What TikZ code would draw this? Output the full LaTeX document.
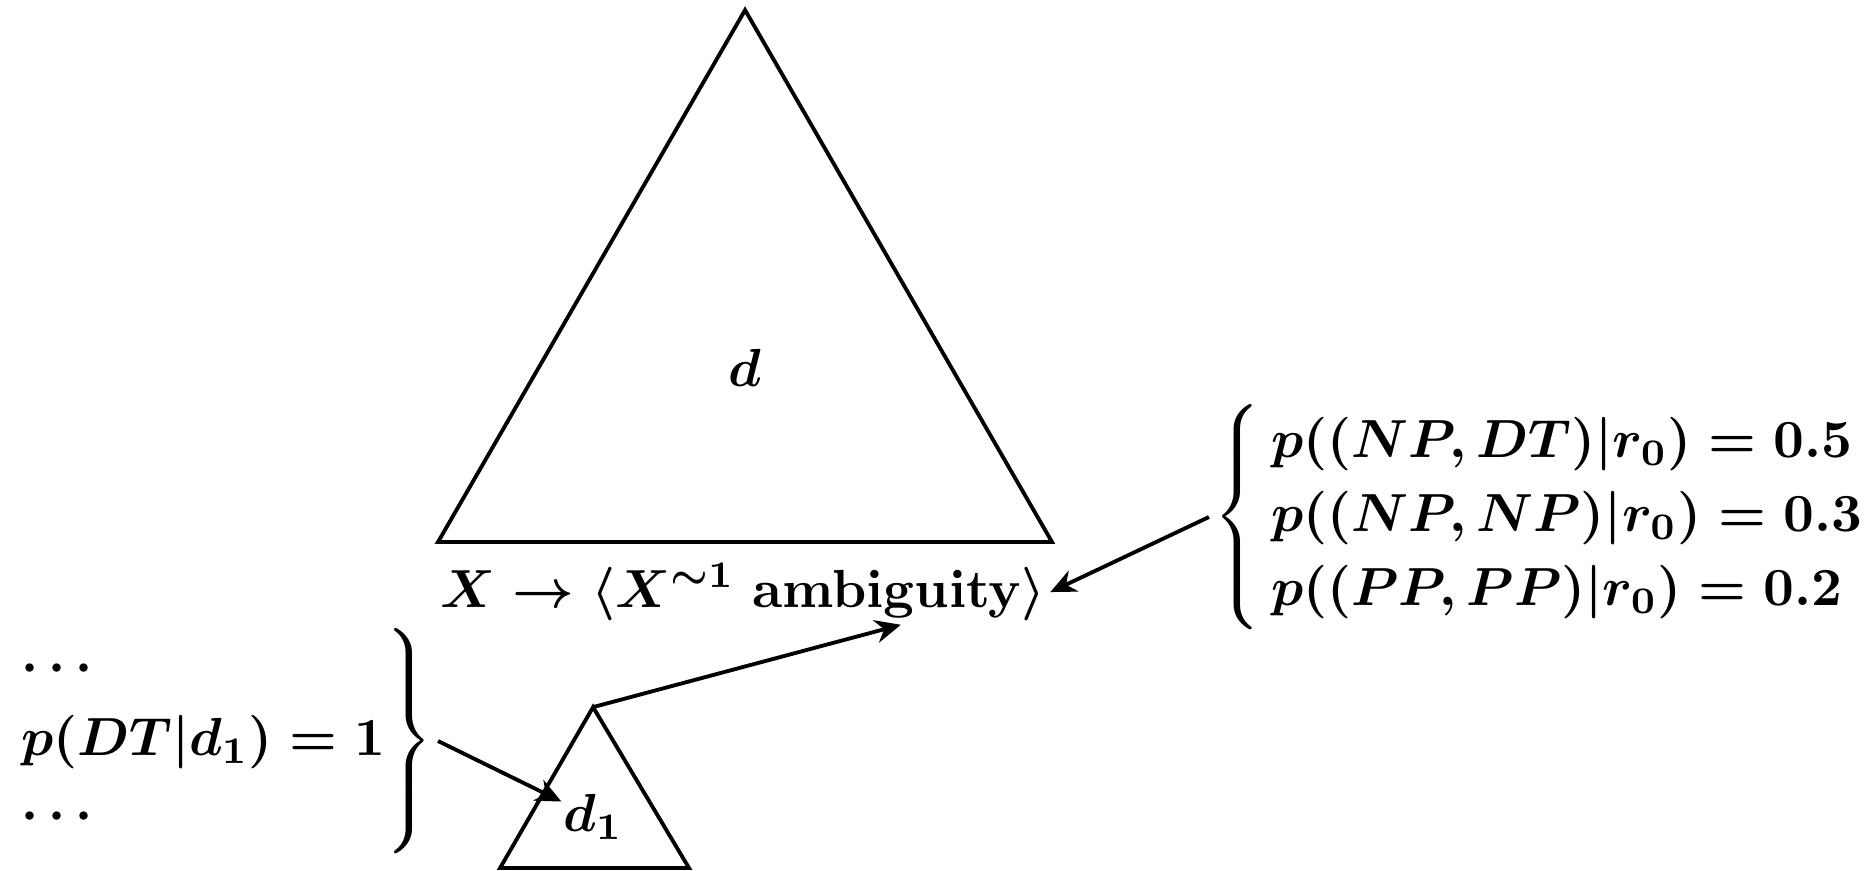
\documentclass[tikz,border=0pt]{standalone}
\usepackage{fix-cm}
\usepackage{amsmath,amssymb}
\usepackage{tikz}
\usetikzlibrary{arrows.meta,calc}

\begin{document}
\begin{tikzpicture}[>={Stealth[length=5pt,width=4.5pt]},line width=0.75pt,
    every node/.style={font=\fontsize{10.45}{12}\selectfont\boldmath},
    brace/.style={inner xsep=0.5pt}]
  \useasboundingbox (0,0) rectangle (12.842,5.959);
  % parent derivation
  \coordinate (top) at (5.103,5.890);
  \coordinate (bigL) at (3.0,2.247);
  \coordinate (bigR) at (7.205,2.247);
  \draw (top) -- (bigL) -- (bigR) -- cycle;
  \node (d) at (5.103,3.44) {$d$};
  \node[inner xsep=0.5pt] (rule) at (5.09,1.904) {$X \rightarrow \langle X^{\sim 1}\ \mathrm{ambiguity}\rangle$};
  % sub-derivation
  \coordinate (subtop) at (4.062,1.116);
  \coordinate (subL) at (3.425,0.014);
  \coordinate (subR) at (4.719,0.014);
  \draw (subtop) -- (subL) -- (subR) -- cycle;
  \node[inner sep=0pt] (d1) at (4.062,0.363) {$d_1$};
  % probabilities
  \node[brace,anchor=west] (probs) at (8.28,2.418) {$\def\arraystretch{1.2}\left\{\begin{array}{@{\,}l@{}}
      p((NP,DT)|r_0) = 0.5\\
      p((NP,NP)|r_0) = 0.3\\
      p((PP,PP)|r_0) = 0.2
    \end{array}\right.$};
  \node[brace,anchor=east] (dt) at (3.0,0.884) {$\def\arraystretch{1.2}\left.\begin{array}{@{}l@{}}
      \cdots\\
      p(DT|d_1) = 1\\
      \cdots
    \end{array}\right\}$};
  \coordinate (gu) at (6.17,1.68);
  \draw[->] (subtop) -- (gu);
  \draw[->] (probs.west) -- (rule.east);
  \draw[->] (dt.east) -- (d1);
\end{tikzpicture}
\end{document}
